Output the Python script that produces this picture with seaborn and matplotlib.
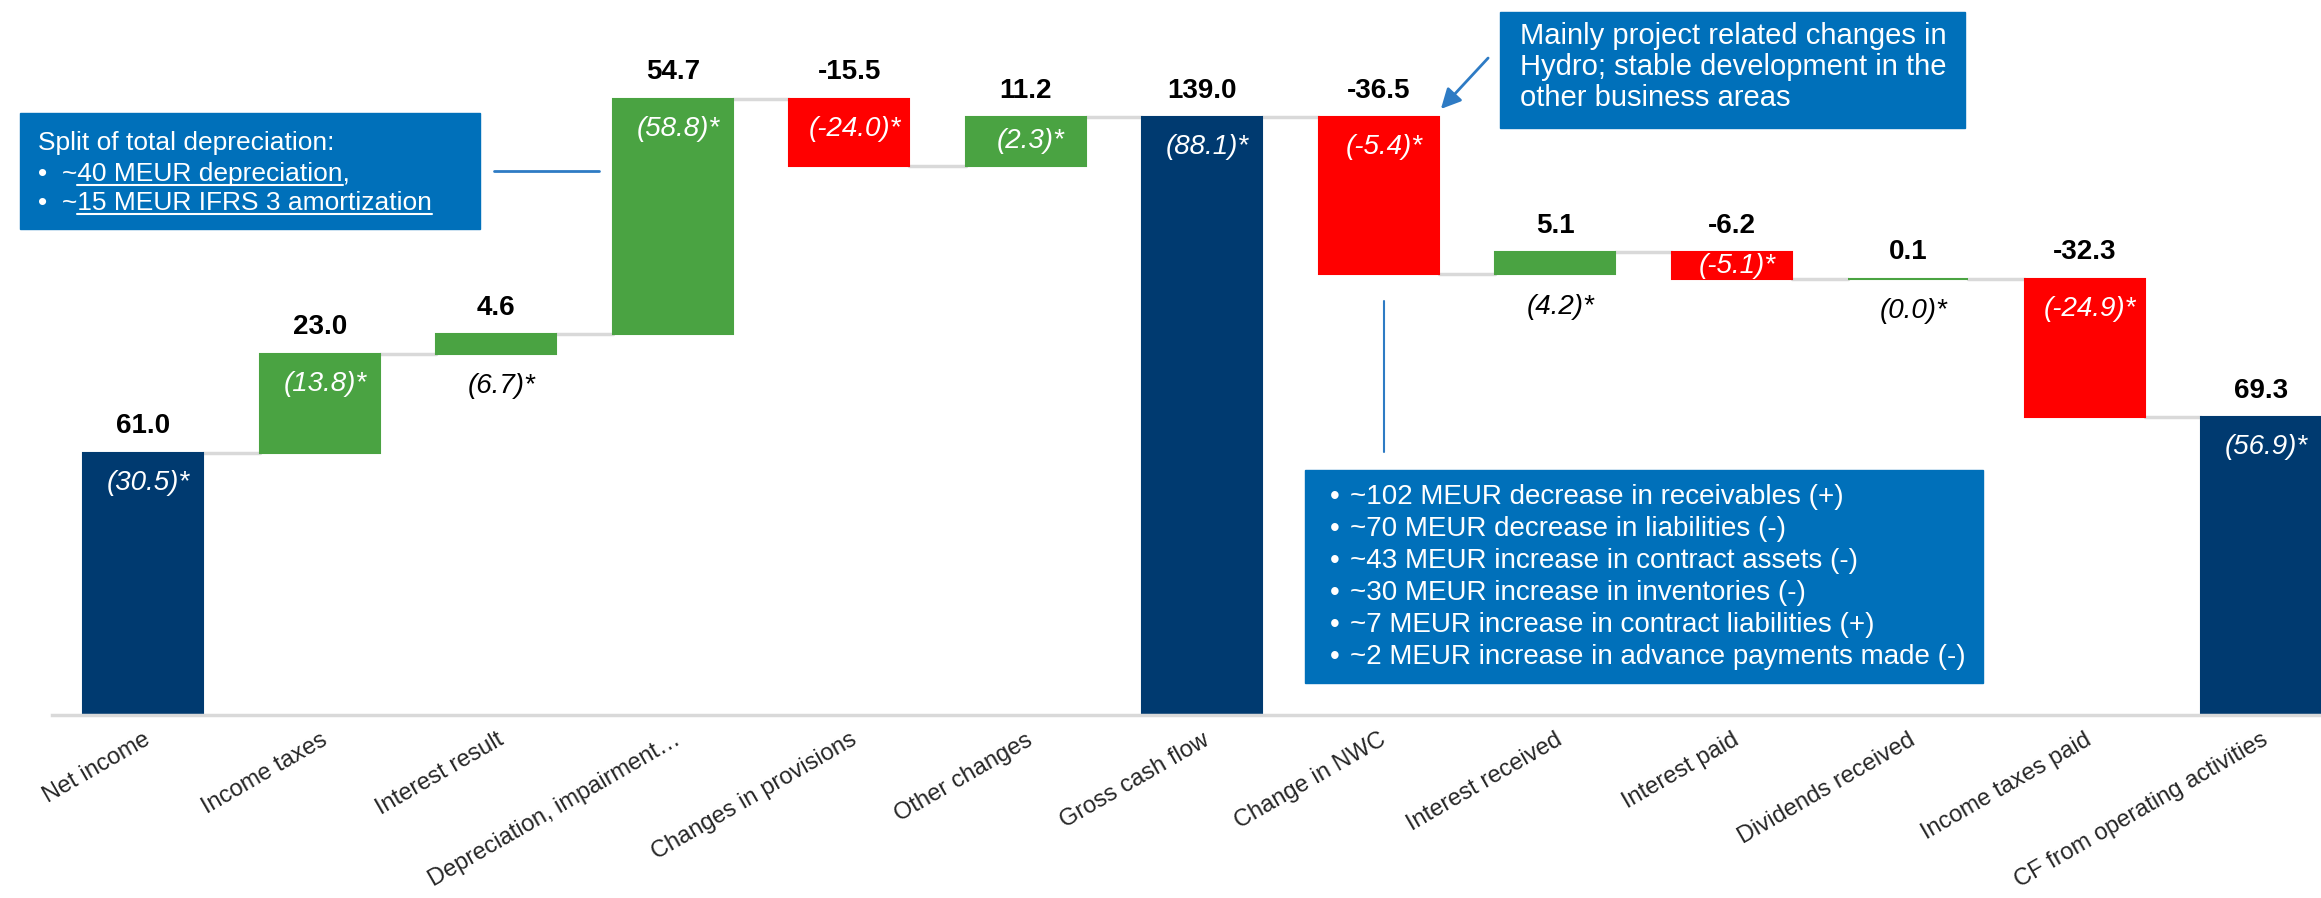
import numpy as np
import pandas as pd
import matplotlib
matplotlib.use("Agg")
import matplotlib.pyplot as plt
from matplotlib.patches import Rectangle, FancyArrowPatch
import seaborn as sns

# ---- data ----
categories = ["Net income", "Income taxes", "Interest result", "Depreciation, impairment…",
              "Changes in provisions", "Other changes", "Gross cash flow", "Change in NWC",
              "Interest received", "Interest paid", "Dividends received", "Income taxes paid",
              "CF from operating activities"]
values = [61.0, 23.0, 4.6, 54.7, -15.5, 11.2, 139.0, -36.5, 5.1, -6.2, 0.1, -32.3, 69.3]
is_total = [True, False, False, False, False, False, True, False, False, False, False, False, True]
prior_labels = ["(30.5)*", "(13.8)*", "(6.7)*", "(58.8)*", "(-24.0)*", "(2.3)*", "(88.1)*",
                "(-5.4)*", "(4.2)*", "(-5.1)*", "(0.0)*", "(-24.9)*", "(56.9)*"]
prior_inside = [True, True, False, True, True, True, True, True, False, True, False, True, True]

depr_title = "Split of total depreciation:"
depr_items = [("~", "40 MEUR depreciation", ","), ("~", "15 MEUR IFRS 3 amortization", "")]
nwc_note = "Mainly project related changes in\nHydro; stable development in the\nother business areas"
nwc_items = ["~102 MEUR decrease in receivables (+)",
             "~70 MEUR decrease in liabilities (-)",
             "~43 MEUR increase in contract assets (-)",
             "~30 MEUR increase in inventories (-)",
             "~7 MEUR increase in contract liabilities (+)",
             "~2 MEUR increase in advance payments made (-)"]

NAVY = "#003A70"
GREEN = "#4AA342"
RED = "#FF0000"
BOXBLUE = "#0070BA"
LINEBLUE = "#2E7BC4"
GREY = "#D9D9D9"

# waterfall bottoms
bottoms = []
levels = []
level = 0.0
for v, tot in zip(values, is_total):
    if tot:
        bottoms.append(0.0)
        level = v
    else:
        bottoms.append(level)
        level += v
    levels.append(level)

colors = [NAVY if tot else (GREEN if v >= 0 else RED) for v, tot in zip(values, is_total)]

sns.set_style("white")
plt.rcParams["font.family"] = ["Liberation Sans", "DejaVu Sans"]

W, H = 2321, 898
fig = plt.figure(figsize=(W / 100, H / 100), dpi=100)
ax = fig.add_axes([52 / W, 1 - 715 / H, 1 - 52 / W, 715 / H])

df = pd.DataFrame({"category": categories, "value": values})
bw = 0.68
sns.barplot(data=df, x="category", y="value", bottom=bottoms, width=bw, errorbar=None,
            color=NAVY, saturation=1, ax=ax, linewidth=0, zorder=2)
for p, c in zip(ax.patches, colors):
    p.set_facecolor(c)
    p.set_edgecolor(c)
    p.set_linewidth(1.5)

# connectors between bars
for i in range(len(values) - 1):
    ax.plot([i + bw / 2, i + 1 - bw / 2], [levels[i], levels[i]], color=GREY, lw=2.5, zorder=1)

ax.set_xlim(-0.518, 12.34)
ax.set_ylim(0, 166.3)
for s in ["top", "left", "right"]:
    ax.spines[s].set_visible(False)
ax.spines["bottom"].set_color(GREY)
ax.spines["bottom"].set_linewidth(2.5)
ax.set_yticks([])
ax.set_xlabel("")
ax.set_ylabel("")
ax.set_xticks(range(len(categories)))
ax.set_xticklabels(categories, rotation=30, ha="right", rotation_mode="anchor", fontsize=17)
ax.tick_params(axis="x", length=0, pad=10)

# value labels
for i, (v, b) in enumerate(zip(values, bottoms)):
    top = max(b, b + v)
    low = min(b, b + v)
    ax.annotate(f"{v:.1f}", (i, top), xytext=(0, 19), textcoords="offset points",
                ha="center", va="center", fontsize=20, fontweight="bold", color="black")
    if prior_inside[i]:
        y = top - min(7.0, (top - low) / 2)
        col = "white"
    else:
        y = low - 7.5
        col = "black"
    ax.text(i + 0.03, y, prior_labels[i], ha="center", va="center", fontsize=20,
            fontstyle="italic", color=col)

# ---- callouts (figure pixel coords) ----
def fx(px):
    return px / W

def fy(py):
    return 1 - py / H

def box(x0, y0, x1, y1):
    fig.patches.append(Rectangle((fx(x0), fy(y1)), fx(x1) - fx(x0), fy(y0) - fy(y1),
                                 transform=fig.transFigure, color=BOXBLUE, zorder=5))

renderer = fig.canvas.get_renderer()

def twidth(s, **kw):
    t = fig.text(0, 0, s, **kw)
    w = t.get_window_extent(renderer).width
    t.remove()
    return w

# depreciation split box
box(20, 113, 480, 229)
fig.text(fx(38), fy(143), depr_title, color="white", fontsize=19, va="center", zorder=6)
for k, (pre, under, post) in enumerate(depr_items):
    yb = 181 + k * 29
    fig.text(fx(38), fy(yb), "•", color="white", fontsize=19, va="baseline", zorder=6)
    x0 = 62
    fig.text(fx(x0), fy(yb), pre + under + post, color="white", fontsize=19, va="baseline", zorder=6)
    u0 = x0 + twidth(pre, fontsize=19)
    u1 = u0 + twidth(under, fontsize=19)
    fig.lines.append(plt.Line2D([fx(u0), fx(u1)], [fy(yb + 4), fy(yb + 4)], transform=fig.transFigure,
                                color="white", lw=1.5, zorder=6))
fig.lines.append(plt.Line2D([fx(494), fx(599)], [fy(171), fy(171)], transform=fig.transFigure,
                            color=LINEBLUE, lw=2))

# NWC note (top right)
box(1500, 12, 1965, 128)
fig.text(fx(1520), fy(22), nwc_note, color="white", fontsize=21, va="top", linespacing=1.13, zorder=6)
arr = FancyArrowPatch((fx(1490), fy(56)), (fx(1439), fy(111)), transform=fig.transFigure,
                      arrowstyle="-|>,head_length=12,head_width=6", color=LINEBLUE, lw=2,
                      mutation_scale=1)
fig.patches.append(arr)

# NWC detail box
box(1305, 470, 1983, 683)
for k, item in enumerate(nwc_items):
    yc = 497 + k * 32
    fig.text(fx(1330), fy(yc), "•", color="white", fontsize=20, va="center", zorder=6)
    fig.text(fx(1350), fy(yc), item, color="white", fontsize=20, va="center", zorder=6)
fig.lines.append(plt.Line2D([fx(1384), fx(1384)], [fy(301), fy(452)], transform=fig.transFigure,
                            color=LINEBLUE, lw=1.5))

fig.savefig("out.png", dpi=100)
